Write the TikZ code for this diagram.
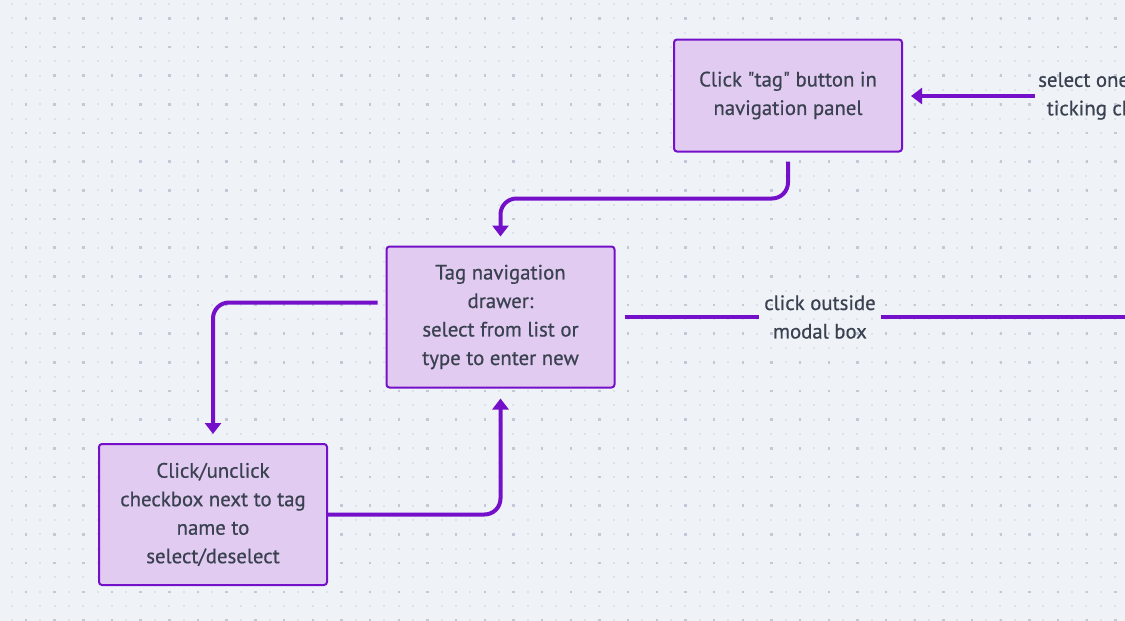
\documentclass[tikz,border=0pt]{standalone}
\usepackage{fontspec}
\setmainfont{PT Sans}[BoldFont={PT Sans}, BoldFeatures={FakeBold=0.6}]
\usetikzlibrary{arrows.meta,positioning}
\definecolor{flowpurple}{HTML}{7410C9}
\definecolor{flowfill}{HTML}{E2CBF1}
\definecolor{flowtext}{HTML}{3A4150}
\definecolor{gridbg}{HTML}{EFF3F7}
\definecolor{gridlight}{HTML}{DCE2EA}
\definecolor{griddark}{HTML}{C2CAD8}

\begin{document}
\begin{tikzpicture}[x=1pt, y=-1pt, >={Triangle[length=11pt, width=16pt]},
    font=\fontsize{20.8}{28.5}\selectfont\bfseries,
    stepbox/.style={rectangle, rounded corners=3pt, draw=flowpurple, fill=flowfill,
                    minimum width=228pt, align=center, text=flowtext,
                    line width=2pt, inner sep=4pt},
    flow/.style={draw=flowpurple, line width=4pt, rounded corners=16pt},
    edgelab/.style={align=center, text=flowtext, inner sep=5pt}]

% Canvas with dot grid
\useasboundingbox (0,0) rectangle (1125,621);
\clip (0,0) rectangle (1125,621);
\fill[gridbg] (0,0) rectangle (1125,621);
\foreach \i in {0,...,78} {
  \foreach \j in {0,...,43} {
    \fill[gridlight] (11.7+14.33*\i-1, 4+14.33*\j-1) rectangle ++(2,2);
  }
}
\foreach \i in {0,...,39} {
  \foreach \j in {0,...,21} {
    \fill[griddark] (26+28.67*\i-1.2, 18.3+28.67*\j-1.2) rectangle ++(2.4,2.4);
  }
}

% Steps
\node[stepbox, minimum height=112pt] (tagbtn) at (788, 95.5)
  {Click \textquotedbl tag\textquotedbl{} button in\\navigation panel};
\node[stepbox, minimum height=141pt] (drawer) at (500.5, 317)
  {Tag navigation\\drawer:\\select from list or\\type to enter new};
\node[stepbox, minimum height=141pt] (checkbox) at (213, 514.5)
  {Click/unclick\\checkbox next to tag\\name to\\select/deselect};

% Edge labels
\node[edgelab] (outside) at (820, 317) {click outside\\modal box};
\node[edgelab, anchor=west, inner sep=3pt] (selone) at (1035, 96)
  {select one or more\\ticking checkbox};
\coordinate (offright) at (1140, 317);

% Connectors
\draw[flow, ->] ([yshift=-9pt]tagbtn.south) -- ++(0,37) -| ([yshift=9pt]drawer.north);
\draw[flow, ->] ([xshift=-8pt, yshift=14.5pt]drawer.west) -| ([yshift=9pt]checkbox.north);
\draw[flow, ->] (checkbox.east) -| ([yshift=-10pt]drawer.south);
\draw[flow] ([xshift=9pt]drawer.east) -- (outside.west);
\draw[flow] (outside.east) -- (offright);
\draw[flow, ->] (selone.west) -- ([xshift=8pt, yshift=-0.5pt]tagbtn.east);

\end{tikzpicture}
\end{document}
